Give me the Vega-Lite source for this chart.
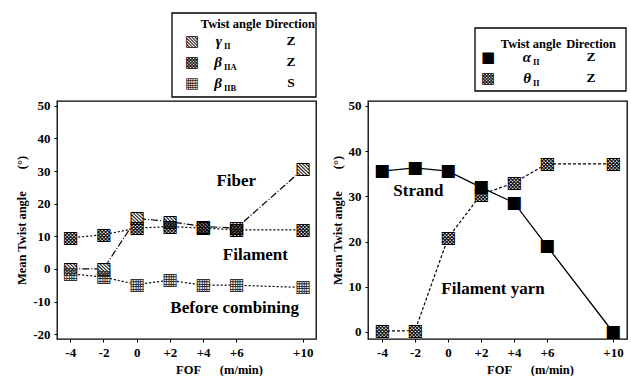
{
  "$schema": "https://vega.github.io/schema/vega-lite/v6.json",
  "background": "white",
  "padding": {"left": 15, "top": 12, "right": 2, "bottom": 0},
  "bounds": "flush",
  "columns": 2,
  "spacing": {"row": 4, "column": 52},
  "datasets": {
    "left": [
      {"series": "gammaII", "fof": -4, "angle": 0},
      {"series": "gammaII", "fof": -2, "angle": 0},
      {"series": "gammaII", "fof": 0, "angle": 15.5},
      {"series": "gammaII", "fof": 2, "angle": 14.5},
      {"series": "gammaII", "fof": 4, "angle": 13},
      {"series": "gammaII", "fof": 6, "angle": 12.5},
      {"series": "gammaII", "fof": 10, "angle": 30.5},
      {"series": "betaIIA", "fof": -4, "angle": 9.5},
      {"series": "betaIIA", "fof": -2, "angle": 10.5},
      {"series": "betaIIA", "fof": 0, "angle": 12.5},
      {"series": "betaIIA", "fof": 2, "angle": 13},
      {"series": "betaIIA", "fof": 4, "angle": 12.5},
      {"series": "betaIIA", "fof": 6, "angle": 12},
      {"series": "betaIIA", "fof": 10, "angle": 12},
      {"series": "betaIIB", "fof": -4, "angle": -1.5},
      {"series": "betaIIB", "fof": -2, "angle": -2.5},
      {"series": "betaIIB", "fof": 0, "angle": -4.8},
      {"series": "betaIIB", "fof": 2, "angle": -3.5},
      {"series": "betaIIB", "fof": 4, "angle": -5},
      {"series": "betaIIB", "fof": 6, "angle": -5},
      {"series": "betaIIB", "fof": 10, "angle": -5.7}
    ],
    "right": [
      {"series": "alphaII", "fof": -4, "angle": 35.6},
      {"series": "alphaII", "fof": -2, "angle": 36.3},
      {"series": "alphaII", "fof": 0, "angle": 35.6},
      {"series": "alphaII", "fof": 2, "angle": 32},
      {"series": "alphaII", "fof": 4, "angle": 28.6},
      {"series": "alphaII", "fof": 6, "angle": 19},
      {"series": "alphaII", "fof": 10, "angle": 0},
      {"series": "thetaII", "fof": -4, "angle": 0.2},
      {"series": "thetaII", "fof": -2, "angle": 0.3},
      {"series": "thetaII", "fof": 0, "angle": 20.8},
      {"series": "thetaII", "fof": 2, "angle": 30.4},
      {"series": "thetaII", "fof": 4, "angle": 33},
      {"series": "thetaII", "fof": 6, "angle": 37.2},
      {"series": "thetaII", "fof": 10, "angle": 37.2}
    ],
    "leftLabels": [
      {"label": "Fiber", "fof": 6, "angle": 27},
      {"label": "Filament", "fof": 7.15, "angle": 4.3},
      {"label": "Before combining", "fof": 5.9, "angle": -12}
    ],
    "rightLabels": [
      {"label": "Strand", "fof": -1.8, "angle": 31.2},
      {"label": "Filament yarn", "fof": 2.73, "angle": 9.5}
    ],
    "leftLegend": [
      {"row": "head", "series": "", "angle": "Twist angle", "sub": "", "direction": "Direction"},
      {"row": "r1", "series": "gammaII", "angle": "γ", "sub": "II", "direction": "Z"},
      {"row": "r2", "series": "betaIIA", "angle": "β", "sub": "IIA", "direction": "Z"},
      {"row": "r3", "series": "betaIIB", "angle": "β", "sub": "IIB", "direction": "S"}
    ],
    "rightLegend": [
      {"row": "head", "series": "", "angle": "Twist angle", "sub": "", "direction": "Direction"},
      {"row": "r1", "series": "alphaII", "angle": "α", "sub": "II", "direction": "Z"},
      {"row": "r2", "series": "thetaII", "angle": "θ", "sub": "II", "direction": "Z"}
    ]
  },
  "concat": [
    {
      "width": 259, "height": 84,
      "data": {"name": "leftLegend"},
      "view": {"stroke": null},
      "encoding": {
        "y": {"field": "row", "type": "nominal", "scale": {"type": "point", "padding": 0, "domain": ["top", "head", "g1", "r1", "g2", "r2", "g3", "r3", "bottom"], "range": [0, 84]}, "axis": null}
      },
      "layer": [
        {"data": {"values": [{}]}, "mark": {"type": "rect", "fill": "white", "stroke": "black", "strokeWidth": 1.3},
         "encoding": {
           "x": {"datum": "e0", "type": "nominal", "scale": {"type": "point", "padding": 0, "domain": ["e0", "sym", "ang", "mid", "dir", "e1"], "range": [115, 259]}, "axis": null},
           "x2": {"datum": "e1"},
           "y": {"datum": "top", "type": "nominal"},
           "y2": {"datum": "bottom"}
         }},
        {"transform": [{"filter": "datum.row === 'head'"}], "mark": {"type": "text", "font": "Liberation Serif", "fontWeight": "bold", "fontSize": 12.5, "dx": 1.4},
         "encoding": {"x": {"datum": "ang", "type": "nominal"}, "text": {"field": "angle"}}},
        {"transform": [{"filter": "datum.row === 'head'"}], "mark": {"type": "text", "font": "Liberation Serif", "fontWeight": "bold", "fontSize": 12.5, "dx": 2.8},
         "encoding": {"x": {"datum": "dir", "type": "nominal"}, "text": {"field": "direction"}}},
        {"transform": [{"filter": "datum.row !== 'head'"}], "mark": {"type": "text", "font": "Liberation Serif", "fontWeight": "bold", "fontSize": 13.5, "dx": 3.8, "dy": -3.5},
         "encoding": {"x": {"datum": "dir", "type": "nominal"}, "text": {"field": "direction"}}},
        {"transform": [{"filter": "datum.row !== 'head'"}], "mark": {"type": "text", "font": "Liberation Serif", "fontWeight": "bold", "fontStyle": "italic", "fontSize": 15, "align": "right", "dx": -7.6, "dy": -3.5},
         "encoding": {"x": {"datum": "ang", "type": "nominal"}, "text": {"field": "angle"}}},
        {"transform": [{"filter": "datum.row !== 'head'"}], "mark": {"type": "text", "font": "Liberation Serif", "fontWeight": "bold", "fontSize": 8.5, "align": "left", "dx": -5.6, "dy": 1.5},
         "encoding": {"x": {"datum": "ang", "type": "nominal"}, "text": {"field": "sub"}}},
        {"transform": [{"filter": "datum.series === 'gammaII'"}], "mark": {"type": "text", "text": "▧", "font": "DejaVu Sans", "fontSize": 15, "dx": -8.8, "dy": -3.5},
         "encoding": {"x": {"datum": "sym", "type": "nominal"}}},
        {"transform": [{"filter": "datum.series === 'betaIIA'"}], "mark": {"type": "text", "text": "▩", "font": "DejaVu Sans", "fontSize": 15, "dx": -8.8, "dy": -3.5},
         "encoding": {"x": {"datum": "sym", "type": "nominal"}}},
        {"transform": [{"filter": "datum.series === 'betaIIB'"}], "mark": {"type": "text", "text": "▦", "font": "DejaVu Sans", "fontSize": 15, "color": "#333", "dx": -8.8, "dy": -3.5},
         "encoding": {"x": {"datum": "sym", "type": "nominal"}}}
      ]
    },
    {
      "width": 259, "height": 84,
      "data": {"name": "rightLegend"},
      "view": {"stroke": null},
      "encoding": {
        "y": {"field": "row", "type": "nominal", "scale": {"type": "point", "padding": 0, "domain": ["top", "head", "g1", "r1", "g2", "r2", "bottom"], "range": [15, 78]}, "axis": null}
      },
      "layer": [
        {"data": {"values": [{}]}, "mark": {"type": "rect", "fill": "white", "stroke": "black", "strokeWidth": 1.3},
         "encoding": {
           "x": {"datum": "e0", "type": "nominal", "scale": {"type": "point", "padding": 0, "domain": ["e0", "sym", "ang", "mid", "dir", "e1"], "range": [107, 258]}, "axis": null},
           "x2": {"datum": "e1"},
           "y": {"datum": "top", "type": "nominal"},
           "y2": {"datum": "bottom"}
         }},
        {"transform": [{"filter": "datum.row === 'head'"}], "mark": {"type": "text", "font": "Liberation Serif", "fontWeight": "bold", "fontSize": 12.5, "dx": -4.4, "dy": 5.5},
         "encoding": {"x": {"datum": "ang", "type": "nominal"}, "text": {"field": "angle"}}},
        {"transform": [{"filter": "datum.row === 'head'"}], "mark": {"type": "text", "font": "Liberation Serif", "fontWeight": "bold", "fontSize": 12.5, "dx": -4.8, "dy": 5.5},
         "encoding": {"x": {"datum": "dir", "type": "nominal"}, "text": {"field": "direction"}}},
        {"transform": [{"filter": "datum.row !== 'head'"}], "mark": {"type": "text", "font": "Liberation Serif", "fontWeight": "bold", "fontSize": 13.5, "dx": -4.8, "dy": -2.5},
         "encoding": {"x": {"datum": "dir", "type": "nominal"}, "text": {"field": "direction"}}},
        {"transform": [{"filter": "datum.row !== 'head'"}], "mark": {"type": "text", "font": "Liberation Serif", "fontWeight": "bold", "fontStyle": "italic", "fontSize": 15, "align": "right", "dx": -4.4, "dy": -2.5},
         "encoding": {"x": {"datum": "ang", "type": "nominal"}, "text": {"field": "angle"}}},
        {"transform": [{"filter": "datum.row !== 'head'"}], "mark": {"type": "text", "font": "Liberation Serif", "fontWeight": "bold", "fontSize": 8.5, "align": "left", "dx": -2.4, "dy": 2.5},
         "encoding": {"x": {"datum": "ang", "type": "nominal"}, "text": {"field": "sub"}}},
        {"transform": [{"filter": "datum.series === 'alphaII'"}], "mark": {"type": "text", "text": "■", "font": "DejaVu Sans", "fontSize": 15, "dx": -17, "dy": -2.5},
         "encoding": {"x": {"datum": "sym", "type": "nominal"}}},
        {"transform": [{"filter": "datum.series === 'thetaII'"}], "mark": {"type": "text", "text": "▩", "font": "DejaVu Sans", "fontSize": 15, "dx": -17, "dy": -2.5},
         "encoding": {"x": {"datum": "sym", "type": "nominal"}}}
      ]
    },
    {
      "width": 259, "height": 238,
      "data": {"name": "left"},
      "encoding": {
        "x": {"field": "fof", "type": "quantitative", "scale": {"domain": [-4.8, 10.8], "nice": false, "zero": false},
              "axis": {"values": [-4, -2, 0, 2, 4, 6, 10], "labelExpr": "datum.value > 0 ? '+' + datum.value : '' + datum.value", "title": "FOF\u00a0\u00a0\u00a0\u00a0\u00a0\u00a0(m/min)", "titleX": 162}},
        "y": {"field": "angle", "type": "quantitative", "scale": {"domain": [-21.5, 51.5], "nice": false, "zero": false},
              "axis": {"values": [-20, -10, 0, 10, 20, 30, 40, 50], "labelExpr": "'' + datum.value", "title": "Mean Twist angle\u00a0\u00a0\u00a0\u00a0\u00a0\u00a0\u00a0(°)"}}
      },
      "layer": [
        {"transform": [{"filter": "datum.series === 'gammaII'"}], "mark": {"type": "line", "color": "black", "strokeWidth": 1.2, "strokeDash": [7, 2, 1, 2]}},
        {"transform": [{"filter": "datum.series === 'betaIIA'"}], "mark": {"type": "line", "color": "black", "strokeWidth": 1.2, "strokeDash": [2, 2]}},
        {"transform": [{"filter": "datum.series === 'betaIIB'"}], "mark": {"type": "line", "color": "black", "strokeWidth": 1.2, "strokeDash": [2, 2]}},
        {"mark": {"type": "point", "shape": "square", "size": 150, "filled": true, "fill": "white", "opacity": 1, "strokeWidth": 0}},
        {"transform": [{"filter": "datum.series === 'gammaII'"}], "mark": {"type": "text", "text": "▧", "font": "DejaVu Sans", "fontSize": 17}},
        {"transform": [{"filter": "datum.series === 'betaIIA'"}], "mark": {"type": "text", "text": "▩", "font": "DejaVu Sans", "fontSize": 17}},
        {"transform": [{"filter": "datum.series === 'betaIIB'"}], "mark": {"type": "text", "text": "▦", "font": "DejaVu Sans", "fontSize": 17, "color": "#333"}},
        {"data": {"name": "leftLabels"}, "mark": {"type": "text", "font": "Liberation Serif", "fontWeight": "bold", "fontSize": 17}, "encoding": {"text": {"field": "label"}}}
      ]
    },
    {
      "width": 259, "height": 238,
      "data": {"name": "right"},
      "encoding": {
        "x": {"field": "fof", "type": "quantitative", "scale": {"domain": [-4.85, 10.85], "nice": false, "zero": false},
              "axis": {"values": [-4, -2, 0, 2, 4, 6, 10], "labelExpr": "datum.value > 0 ? '+' + datum.value : '' + datum.value", "title": "FOF\u00a0\u00a0\u00a0\u00a0\u00a0\u00a0(m/min)", "titleX": 162}},
        "y": {"field": "angle", "type": "quantitative", "scale": {"domain": [-1.55, 51.1], "nice": false, "zero": false},
              "axis": {"values": [0, 10, 20, 30, 40, 50], "labelExpr": "'' + datum.value", "title": "Mean Twist angle\u00a0\u00a0\u00a0\u00a0\u00a0\u00a0\u00a0(°)"}}
      },
      "layer": [
        {"transform": [{"filter": "datum.series === 'alphaII'"}], "mark": {"type": "line", "color": "black", "strokeWidth": 1.3}},
        {"transform": [{"filter": "datum.series === 'thetaII'"}], "mark": {"type": "line", "color": "black", "strokeWidth": 1.2, "strokeDash": [3, 2]}},
        {"mark": {"type": "point", "shape": "square", "size": 150, "filled": true, "fill": "white", "opacity": 1, "strokeWidth": 0}},
        {"transform": [{"filter": "datum.series === 'alphaII'"}], "mark": {"type": "text", "text": "■", "font": "DejaVu Sans", "fontSize": 17}},
        {"transform": [{"filter": "datum.series === 'thetaII'"}], "mark": {"type": "text", "text": "▩", "font": "DejaVu Sans", "fontSize": 17}},
        {"data": {"name": "rightLabels"}, "mark": {"type": "text", "font": "Liberation Serif", "fontWeight": "bold", "fontSize": 17}, "encoding": {"text": {"field": "label"}}}
      ]
    }
  ],
  "config": {
    "font": "Liberation Serif",
    "view": {"stroke": "black", "strokeWidth": 1.3},
    "text": {"color": "black", "baseline": "middle"},
    "axis": {
      "grid": false, "domain": false,
      "tickColor": "black", "tickSize": 3,
      "labelFont": "Liberation Serif", "labelFontWeight": "bold", "labelFontSize": 13, "labelColor": "black", "labelPadding": 4,
      "titleFont": "Liberation Serif", "titleFontWeight": "bold", "titleFontSize": 12.5, "titleColor": "black", "titlePadding": 4
    }
  }
}
